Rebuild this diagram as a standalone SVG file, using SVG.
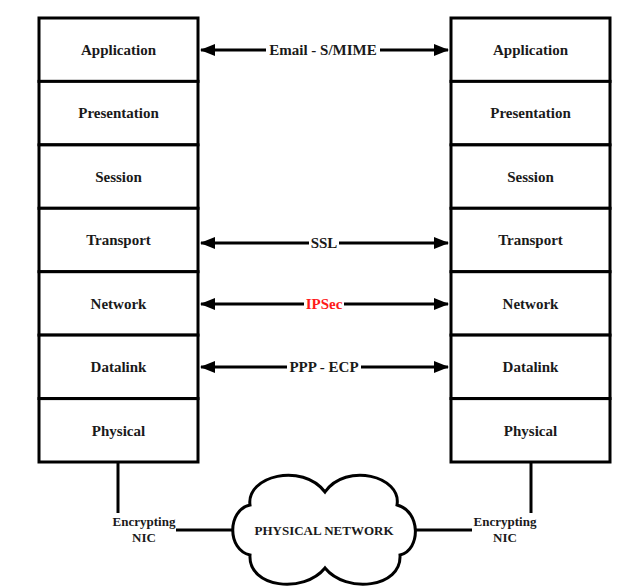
<svg xmlns="http://www.w3.org/2000/svg" width="632" height="587" viewBox="0 0 632 587">
<style>
.box{fill:#fff;stroke:#000;stroke-width:3}
.lbl{font-family:"Liberation Serif","Times New Roman",serif;font-weight:bold;font-size:15px;text-anchor:middle;fill:#1a1a1a}
.sm{font-family:"Liberation Serif","Times New Roman",serif;font-weight:bold;font-size:13px;text-anchor:middle;fill:#1a1a1a}
.ln{stroke:#000;stroke-width:3;fill:none}
</style>
<defs>
<marker id="ah" markerUnits="userSpaceOnUse" markerWidth="16" markerHeight="14" refX="14" refY="6" orient="auto-start-reverse" viewBox="0 0 16 12">
<path d="M0,0 L15,6 L0,12 Z" fill="#000"/>
</marker>
</defs>
<rect width="632" height="587" fill="#fff"/>
<g id="connectors">
<line class="ln" x1="118" y1="462" x2="118" y2="513"/>
<line class="ln" x1="531" y1="462" x2="531" y2="513"/>
<line class="ln" x1="176" y1="530" x2="237" y2="530"/>
<line class="ln" x1="412" y1="530" x2="472" y2="530"/>
<g>
<line class="ln" x1="201" y1="50" x2="448" y2="50" marker-start="url(#ah)" marker-end="url(#ah)"/>
<rect x="266" y="42" width="114" height="16" fill="#fff"/>
<text class="lbl" x="323" y="55">Email - S/MIME</text>
</g>
<g>
<line class="ln" x1="201" y1="243" x2="448" y2="243" marker-start="url(#ah)" marker-end="url(#ah)"/>
<rect x="309" y="235" width="30" height="16" fill="#fff"/>
<text class="lbl" x="324" y="248">SSL</text>
</g>
<g>
<line class="ln" x1="201" y1="304" x2="448" y2="304" marker-start="url(#ah)" marker-end="url(#ah)"/>
<rect x="304" y="296" width="40" height="16" fill="#fff"/>
<text class="lbl" x="324" y="309" style="fill:#ff1a1a">IPSec</text>
</g>
<g>
<line class="ln" x1="201" y1="367" x2="448" y2="367" marker-start="url(#ah)" marker-end="url(#ah)"/>
<rect x="287" y="359" width="74" height="16" fill="#fff"/>
<text class="lbl" x="324" y="372">PPP - ECP</text>
</g>
</g>
<g id="left-application"><rect class="box" x="39" y="18" width="159" height="63.4"/><text class="lbl" x="118.5" y="55">Application</text></g>
<g id="left-presentation"><rect class="box" x="39" y="81.4" width="159" height="63.4"/><text class="lbl" x="118.5" y="118">Presentation</text></g>
<g id="left-session"><rect class="box" x="39" y="144.9" width="159" height="63.4"/><text class="lbl" x="118.5" y="181.5">Session</text></g>
<g id="left-transport"><rect class="box" x="39" y="208.3" width="159" height="63.4"/><text class="lbl" x="118.5" y="245">Transport</text></g>
<g id="left-network"><rect class="box" x="39" y="271.7" width="159" height="63.4"/><text class="lbl" x="118.5" y="308.5">Network</text></g>
<g id="left-datalink"><rect class="box" x="39" y="335.1" width="159" height="63.4"/><text class="lbl" x="118.5" y="372">Datalink</text></g>
<g id="left-physical"><rect class="box" x="39" y="398.6" width="159" height="63.4"/><text class="lbl" x="118.5" y="435.5">Physical</text></g>
<g id="right-application"><rect class="box" x="451" y="18" width="159" height="63.4"/><text class="lbl" x="530.5" y="55">Application</text></g>
<g id="right-presentation"><rect class="box" x="451" y="81.4" width="159" height="63.4"/><text class="lbl" x="530.5" y="118">Presentation</text></g>
<g id="right-session"><rect class="box" x="451" y="144.9" width="159" height="63.4"/><text class="lbl" x="530.5" y="181.5">Session</text></g>
<g id="right-transport"><rect class="box" x="451" y="208.3" width="159" height="63.4"/><text class="lbl" x="530.5" y="245">Transport</text></g>
<g id="right-network"><rect class="box" x="451" y="271.7" width="159" height="63.4"/><text class="lbl" x="530.5" y="308.5">Network</text></g>
<g id="right-datalink"><rect class="box" x="451" y="335.1" width="159" height="63.4"/><text class="lbl" x="530.5" y="372">Datalink</text></g>
<g id="right-physical"><rect class="box" x="451" y="398.6" width="159" height="63.4"/><text class="lbl" x="530.5" y="435.5">Physical</text></g>
<g id="left-nic"><text class="sm" x="144" y="526">Encrypting</text><text class="sm" x="144" y="542">NIC</text></g>
<g id="right-nic"><text class="sm" x="505" y="526">Encrypting</text><text class="sm" x="505" y="542">NIC</text></g>
<g id="physical-network">
<path class="ln" style="fill:#fff" d="M 250 505 C 246 476, 302 462, 325 492 C 346 462, 402 476, 397 505 C 421 511, 421 550, 400 555 C 402 588, 346 594, 325 568 C 304 594, 248 588, 250 555 C 227 550, 227 510, 250 505 Z"/>
<text class="sm" x="324" y="535">PHYSICAL NETWORK</text>
</g>
</svg>
